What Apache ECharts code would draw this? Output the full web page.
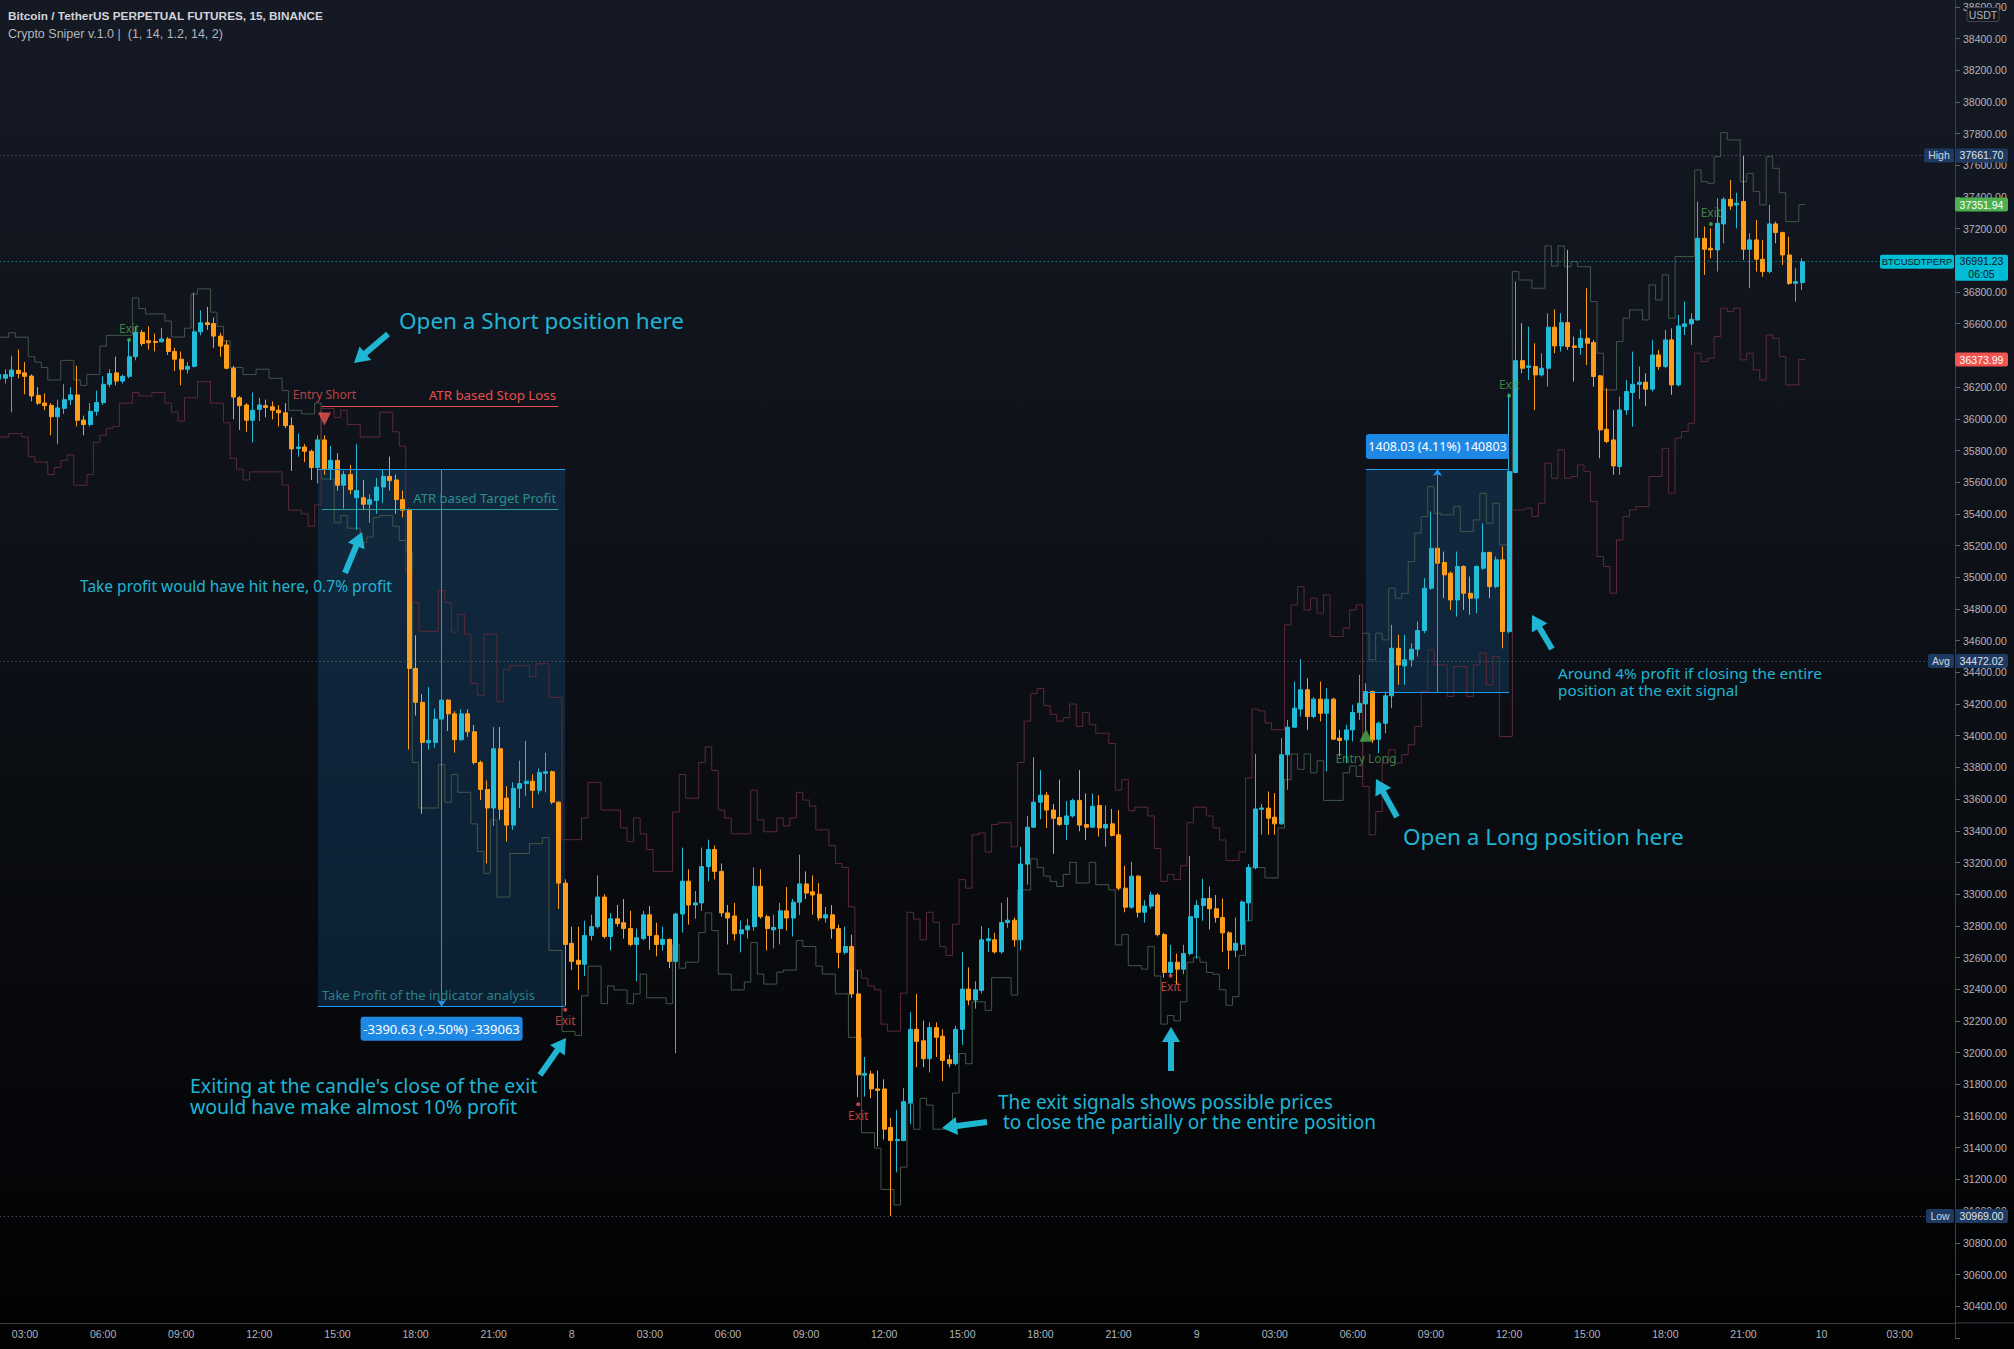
<!DOCTYPE html>
<html><head><meta charset="utf-8">
<script src="https://cdn.jsdelivr.net/npm/echarts@6.0.0/dist/echarts.min.js"></script>
<style>
html,body{margin:0;padding:0;background:#000;}
#c{width:2014px;height:1349px;background:linear-gradient(to bottom,#151924 0%,#0c0f15 50%,#020203 100%);}
</style></head><body><div id="c"></div>
<script>
// ---------- DATA ----------
const titleLine1 = 'Bitcoin / TetherUS PERPETUAL FUTURES, 15, BINANCE';
const titleLine2 = 'Crypto Sniper v.1.0 |  (1, 14, 1.2, 14, 2)';
const startDay = 7, startHour = 2, barMinutes = 15, slotCount = 301;

// 15-minute candles: [open, close, low, high]
const candles = [
[36250,36280,36220,36320],[36256,36279,36223,36313],[36268,36308,36042,36398],[36306,36286,36256,36437],[36290,36268,36155,36358],
[36270,36144,36110,36280],[36148,36099,36087,36200],[36100,36083,36054,36160],[36085,36013,35896,36099],[36013,36069,35840,36121],
[36066,36121,36031,36218],[36120,36151,36087,36200],[36151,35991,35952,36335],[35992,35964,35896,36020],[35964,36047,35952,36099],
[36047,36103,36020,36178],[36103,36218,36087,36268],[36218,36286,36200,36313],[36290,36238,36211,36392],[36238,36268,36223,36279],
[36268,36392,36256,36504],[36392,36545,36369,36583],[36545,36475,36459,36561],[36493,36480,36437,36583],[36488,36482,36425,36538],
[36486,36504,36482,36572],[36504,36425,36403,36516],[36425,36376,36301,36448],[36376,36313,36211,36425],[36313,36331,36286,36358],
[36331,36549,36324,36797],[36549,36606,36527,36684],[36606,36594,36561,36707],[36601,36522,36448,36640],[36522,36459,36392,36543],
[36466,36319,36313,36493],[36319,36137,35997,36335],[36133,36083,35930,36144],[36087,35991,35918,36099],[35991,36054,35851,36166],
[36060,36087,35986,36133],[36083,36072,36009,36121],[36076,36054,35997,36110],[36054,36038,35952,36087],[36038,35957,35941,36099],
[35957,35810,35671,36009],[35813,35822,35761,35907],[35822,35795,35727,35840],[35795,35693,35614,35806],[35693,35867,35592,35896],
[35867,35682,35648,35896],[35682,35738,35614,35828],[35738,35581,35547,35783],[35581,35648,35434,35671],[35648,35553,35524,35709],
[35502,35547,35299,35840],[35502,35461,35423,35614],[35461,35490,35344,35524],[35484,35569,35400,35626],[35569,35637,35468,35682],
[35637,35610,35547,35761],[35614,35490,35400,35648],[35490,35423,35378,35547],[35423,34425,33913,35434],[34425,34211,34127,34634],
[34211,33958,33508,34262],[33956,33970,33913,34307],[33958,34105,33924,34172],[34105,34225,33831,34242],[34225,34138,34030,34230],
[34138,33975,33893,34155],[33975,34138,33968,34167],[34138,34025,33993,34167],[34025,33831,33818,34068],[33831,33661,33594,33843],
[33661,33544,33194,33718],[33544,33918,33431,34055],[33918,33536,33469,34055],[33606,33436,33332,33681],[33436,33668,33406,33706],
[33668,33698,33544,33843],[33698,33713,33619,33968],[33713,33656,33544,33756],[33656,33768,33631,33793],[33763,33773,33643,33893],
[33773,33581,33569,33780],[33581,33070,32907,33585],[33070,32683,32296,33094],[32690,32576,32521,32795],[32583,32558,32396,32795],
[32558,32740,32483,32833],[32740,32795,32708,32870],[32795,32982,32783,33119],[32982,32733,32720,33000],[32733,32845,32645,32882],
[32845,32815,32795,32932],[32820,32783,32720,32970],[32783,32683,32670,32895],[32683,32725,32451,32783],[32720,32870,32708,32895],
[32870,32740,32650,32925],[32740,32683,32608,32820],[32683,32715,32645,32795],[32715,32576,32533,32720],[32576,32875,31997,32882],
[32875,33082,32758,33294],[33082,32932,32808,33157],[32932,32945,32845,33020],[32945,33174,32895,33294],[33174,33282,33082,33344],
[33282,33144,33094,33307],[33144,32882,32858,33194],[32882,32850,32683,32932],[32863,32750,32708,32945],[32750,32775,32633,32833],
[32775,32800,32720,32845],[32795,33050,32770,33169],[33050,32858,32845,33157],[32858,32783,32645,32870],[32775,32790,32658,32870],
[32783,32895,32683,32945],[32895,32850,32770,33045],[32850,32950,32733,32970],[32950,33065,32870,33249],[33065,33007,32970,33144],
[33015,32995,32870,33119],[33000,32850,32833,33070],[32850,32870,32820,32920],[32870,32783,32720,32932],[32783,32633,32533,32808],
[32633,32670,32620,32795],[32670,32371,32346,32745],[32371,31860,31720,32521],[31858,31869,31723,31973],[31865,31771,31713,31886],
[31771,31762,31408,31886],[31771,31517,31452,31832],[31528,31445,30969,31589],[31445,31452,31245,31637],[31445,31691,31441,31778],
[31684,32147,31549,32256],[32147,32071,31908,32371],[32075,31962,31908,32202],[31962,32158,31875,32191],[32158,32097,31973,32191],
[32104,31951,31821,32147],[31956,31930,31908,31988],[31930,32147,31919,32169],[32147,32401,32049,32636],[32401,32332,32299,32538],
[32332,32397,32278,32451],[32393,32712,32375,32799],[32706,32719,32636,32788],[32712,32636,32625,32756],[32636,32821,32625,32945],
[32821,32836,32788,32979],[32836,32712,32669,32853],[32712,33190,32647,33299],[33190,33423,33060,33494],[33423,33581,33418,33864],
[33581,33625,33473,33783],[33625,33531,33418,33646],[33531,33479,33255,33570],[33484,33440,33430,33723],[33440,33494,33342,33588],
[33494,33592,33484,33603],[33592,33436,33397,33783],[33440,33423,33342,33636],[33423,33555,33418,33636],[33560,33418,33364,33625],
[33418,33440,33299,33560],[33444,33371,33364,33538],[33375,33038,33023,33531],[33038,32918,32886,33179],[32918,33114,32908,33205],
[33114,32886,32853,33120],[32886,32925,32821,32962],[32925,32995,32908,33016],[32995,32745,32734,33005],[32745,32506,32473,32756],
[32506,32571,32484,32680],[32571,32527,32430,32625],[32527,32625,32495,32680],[32625,32858,32614,33240],[32853,32929,32593,32962],
[32929,32973,32832,33097],[32973,32908,32777,33049],[32908,32853,32821,32995],[32853,32756,32636,32973],[32756,32647,32527,32766],
[32647,32690,32603,32853],[32684,32951,32647,32962],[32945,33168,32832,33190],[33168,33538,33157,33885],[33536,33544,33375,33570],
[33543,33480,33375,33648],[33486,33444,33375,33638],[33444,33880,33438,33985],[33880,34054,33659,34100],[34054,34174,34048,34342],
[34168,34290,34121,34483],[34290,34121,34037,34363],[34121,34231,34110,34245],[34231,34142,34090,34342],[34142,34231,33775,34300],
[34231,33978,33974,34240],[33985,33970,33869,34037],[33974,34037,33827,34069],[34037,34147,33964,34195],[34147,34205,34100,34384],
[34201,34279,34037,34332],[34279,33974,33953,34285],[33978,34079,33890,34090],[34079,34252,34016,34279],[34252,34552,34174,34700],
[34552,34447,34321,34637],[34441,34479,34321,34637],[34479,34546,34436,34584],[34546,34664,34500,34721],[34664,34931,34647,34994],
[34931,35183,34920,35415],[35183,35089,34984,35190],[35093,35015,34868,35162],[35026,34857,34794,35036],[34857,35068,34752,35162],
[35068,34899,34794,35075],[34899,34868,34763,35005],[34868,35068,34773,35075],[35057,35156,35047,35341],[35156,34941,34868,35162],
[34941,35110,34931,35131],[35110,34658,34552,35194],[34657,35667,34647,36160],[35661,36367,35657,36866],[36367,36319,36288,36603],
[36325,36334,36245,36582],[36330,36277,36056,36477],[36277,36319,36267,36414],[36319,36578,36203,36666],[36578,36460,36414,36691],
[36460,36607,36424,36666],[36607,36456,36435,37066],[36460,36450,36235,36519],[36450,36508,36403,36565],[36508,36477,36340,36824],
[36481,36267,36203,36498],[36271,35930,35751,36277],[35934,35857,35846,36193],[35867,35703,35646,36056],[35699,36056,35646,36140],
[36056,36172,36025,36245],[36166,36218,35951,36424],[36218,36231,36124,36330],[36231,36187,36081,36288],[36187,36403,36172,36498],
[36403,36330,36309,36435],[36330,36498,36319,36561],[36498,36214,36151,36571],[36214,36586,36205,36656],[36582,36599,36529,36740],
[36599,36628,36466,36666],[36624,37139,36620,37371],[37139,37070,36908,37213],[37076,37066,37013,37202],[37066,37234,36929,37392],
[37230,37385,37108,37398],[37385,37343,37318,37507],[37350,37360,37202,37427],[37371,37070,37003,37661.7],[37070,37129,36824,37171],
[37129,37007,36929,37255],[37007,36929,36897,37129],[36929,37230,36918,37350],[37230,37175,37108,37244],[37175,37034,36971,37181],
[37034,36855,36845,37150],[36855,36866,36740,36950],[36860,36991.23,36813,37013]
];

// indicator step lines: [first candle index of the step, price]
const upperBandGreen = [
[0,36515],[2,36543],[3,36515],[5,36392],[6,36358],[7,36324],[8,36245],[10,36369],[12,36245],[13,36211],[14,36279],[16,36459],[17,36527],
[21,36763],[22,36696],[23,36662],[26,36617],[27,36516],[29,36572],[30,36786],[31,36820],[33,36673],[34,36583],[35,36493],[36,36324],
[38,36279],[40,36313],[42,36256],[44,36178],[45,36054],[47,36031],[49,36099],[50,35620],[52,35344],[53,35389],[54,35310],[56,35220],
[57,35254],[58,35378],[59,35389],[61,35322],[62,35232],[63,35164],[64,33831],[65,33544],[68,33818],[69,33581],[70,33756],[71,33643],
[73,33444],[74,33269],[75,33132],[76,33469],[77,32982],[79,33257],[82,33319],[84,33357],[85,32645],[87,32134],[89,32109],[90,32359],
[91,32546],[93,32309],[94,32421],[95,32396],[97,32309],[98,32371],[99,32496],[100,32346],[103,32309],[104,32683],[105,32533],[106,32571],
[108,32758],[109,32882],[110,32770],[111,32496],[113,32396],[115,32446],[116,32695],[117,32496],[118,32433],[120,32508],[121,32521],
[123,32708],[124,32670],[126,32546],[127,32496],[129,32371],[131,32097],[133,31495],[135,31397],[136,31137],[138,31039],[139,31278],
[140,31680],[141,31517],[142,31712],[143,31669],[144,31517],[147,31745],[148,31995],[149,31930],[150,32321],[152,32267],[153,32473],
[156,32364],[157,33027],[159,33223],[160,33168],[161,33114],[162,33081],[163,33049],[164,33125],[165,33201],[166,33071],[168,33201],
[169,33060],[171,33027],[172,32680],[173,32745],[174,32549],[176,32527],[177,32669],[178,32484],[179,32180],[180,32234],[181,32201],
[182,32321],[183,32571],[184,32603],[185,32571],[186,32506],[187,32495],[188,32397],[189,32299],[190,32353],[191,32614],[192,32832],
[193,33168],[195,33103],[197,33418],[198,33723],[199,33885],[200,33788],[201,33885],[202,33766],[203,33842],[204,33592],[207,33766],
[208,33809],[209,33743],[210,34647],[211,34479],[212,34647],[213,34605],[214,34931],[215,34868],[216,34899],[217,35099],[218,35278],
[219,35383],[220,35572],[221,35404],[222,35394],[224,35446],[225,35288],[227,35362],[228,35530],[229,35341],[230,35467],[231,35204],
[233,36929],[234,36876],[236,36824],[238,37091],[239,36965],[240,37091],[241,36960],[242,36992],[243,36960],[245,36740],[246,36414],
[247,36182],[249,36487],[250,36635],[251,36687],[253,36624],[254,36845],[255,36750],[256,36908],[257,36635],[258,37024],[261,37570],
[262,37497],[263,37486],[264,37654],[265,37806],[266,37760],[268,37497],[269,37549],[270,37434],[271,37350],[272,37654],[273,37581],
[274,37427],[275,37244],[277,37351.94]
];
const lowerBandRed = [
[0,35885],[2,35907],[4,35885],[5,35761],[6,35727],[8,35648],[9,35693],[10,35738],[11,35772],[12,35581],[14,35648],[15,35851],[16,35896],
[17,35941],[18,35952],[19,36099],[21,36166],[22,36144],[24,36166],[26,36099],[27,36042],[28,35986],[29,36133],[31,36234],[33,36099],
[35,35975],[36,35750],[37,35682],[38,35614],[39,35665],[44,35581],[45,35423],[47,35400],[48,35322],[49,35457],[50,36065],[52,36009],
[53,36054],[54,35964],[56,35885],[59,36042],[61,35918],[62,35828],[63,35029],[64,34841],[65,34659],[68,34916],[69,34841],[70,34654],
[71,34766],[72,34641],[73,34330],[74,34255],[75,34641],[77,34217],[78,34417],[79,34442],[82,34374],[83,34454],[85,34242],[87,33344],
[90,33481],[91,33706],[93,33531],[96,33419],[97,33332],[98,33481],[99,33381],[100,33282],[101,33144],[104,33519],[105,33756],[106,33606],
[108,33831],[109,33930],[110,33781],[111,33531],[112,33481],[113,33381],[116,33656],[117,33469],[118,33394],[120,33481],[121,33431],
[122,33481],[123,33643],[124,33594],[125,33556],[126,33406],[128,33307],[129,33194],[130,33169],[131,32920],[132,32521],[133,32470],
[134,32421],[135,32397],[136,32180],[137,32136],[139,32375],[140,32886],[141,32843],[142,32712],[143,32886],[144,32821],[145,32669],
[146,32614],[147,32810],[148,33092],[149,33038],[150,33375],[151,33386],[152,33266],[153,33440],[154,33451],[156,33299],[157,33831],
[158,34092],[159,34266],[160,34298],[161,34190],[162,34135],[163,34092],[164,34114],[165,34200],[166,34059],[167,34146],[168,34070],
[169,34016],[171,33951],[172,33657],[173,33723],[174,33527],[175,33549],[177,33494],[178,33288],[179,33081],[180,33125],[181,33092],
[182,33179],[183,33451],[184,33549],[186,33494],[187,33418],[188,33342],[189,33212],[191,33266],[192,33733],[193,34168],[194,34157],
[195,34081],[196,34038],[198,34700],[199,34826],[200,34941],[201,34794],[202,34868],[203,34773],[204,34889],[205,34626],[207,34679],
[208,34794],[209,34826],[210,33680],[211,33375],[212,33522],[213,33827],[214,33911],[215,33827],[216,33880],[217,33943],[218,34058],
[219,34279],[220,34542],[221,34447],[223,34248],[224,34437],[226,34248],[227,34447],[228,34521],[229,34321],[230,34500],[231,33995],
[233,35425],[235,35436],[236,35383],[237,35467],[238,35720],[239,35625],[240,35804],[241,35625],[242,35636],[243,35709],[244,35667],
[245,35478],[246,35131],[247,35068],[248,34900],[249,35236],[250,35383],[251,35425],[252,35446],[254,35636],[256,35814],[257,35530],
[258,35878],[259,35920],[260,35972],[261,36414],[262,36361],[263,36382],[264,36519],[265,36698],[266,36677],[267,36698],[268,36372],
[269,36414],[270,36309],[271,36245],[272,36529],[273,36508],[274,36393],[275,36214],[277,36373.99]
];

// signals: [candle index, price]
const entryShortSignals = [[50, 35999]];
const entryLongSignals = [[210, 34003]];
const exitGreenSignals = [[20, 36498], [232, 36145], [263, 37230]];
const exitRedSignals = [[87, 32271], [132, 31674], [180, 32485]];

// drawings
const shortTrade = { from: 49, to: 87, top: 35681, bottom: 32290, label: '-3390.63 (-9.50%) -339063' };
const longTrade = { from: 210, to: 232, top: 35683, bottom: 34275, label: '1408.03 (4.11%) 140803' };
const atrStopLoss = { from: 49.6, to: 85.9, price: 36081 };
const atrTarget = { from: 49.6, to: 85.9, price: 35430 };
const stats = { high: 37661.70, avg: 34472.02, low: 30969.00, last: 36991.23, countdown: '06:05', upper: 37351.94, lower: 36373.99 };
const priceMin = 30200, priceMax = 38800, priceStep = 200;
const hiddenPriceLabels = [37000, 36400]; // fully covered by the price tags in the reference

// ---------- BUILD ----------
const categories = [];
for (let k = 0; k < slotCount; k++) {
  const t = startHour * 60 + barMinutes * k;
  const d = startDay + Math.floor(t / 1440), m = t % 1440;
  categories.push(d + ' ' + String(Math.floor(m / 60)).padStart(2, '0') + ':' + String(m % 60).padStart(2, '0'));
}
function isMajor(v) { const t = v.split(' ')[1]; const h = +t.slice(0, 2), mi = +t.slice(3); return mi === 0 && h % 3 === 0; }
function stepLine(pts) {
  const d = pts.map(p => [p[0] - 0.5, p[1]]);
  d.push([candles.length - 0.5, pts[pts.length - 1][1]]);
  return d;
}
const UP = '#22bcd8', DOWN = '#ff9d1c', ANN = '#1fb5d3', BLUE = '#2196f3';
const AX = 'Liberation Sans';

const option = {
  animation: false,
  grid: { left: -4.3, right: 59, top: -24.88, bottom: 11.1, containLabel: false, outerBoundsMode: 'none' },
  xAxis: [
    { type: 'category', data: categories, boundaryGap: true, offset: -15,
      axisLine: { onZero: false, lineStyle: { color: '#3a3e48' } },
      axisTick: { alignWithLabel: true, length: 4, interval: (i, v) => isMajor(v), lineStyle: { color: '#5d606b' } },
      axisLabel: { interval: (i, v) => isMajor(v), formatter: v => { const [d, t] = v.split(' '); return t === '00:00' ? d : t; },
        color: '#b2b5be', fontSize: 10.5, fontFamily: AX, margin: 6 },
      splitLine: { show: false } },
    { type: 'value', min: -0.5, max: slotCount - 0.5, show: false,
      axisLine: { show: false, onZero: false }, axisTick: { show: false }, axisLabel: { show: false }, splitLine: { show: false } }
  ],
  yAxis: { type: 'value', position: 'right', min: priceMin, max: priceMax, interval: priceStep, scale: true,
    axisLine: { show: true, onZero: false, lineStyle: { color: '#3a3e48' } },
    axisTick: { show: true, inside: false, length: 5, lineStyle: { color: '#5d606b' } },
    axisLabel: { color: '#b2b5be', fontSize: 10.5, fontFamily: AX, margin: 8,
      formatter: v => (v <= priceMin || v >= priceMax || hiddenPriceLabels.includes(v)) ? '' : v.toFixed(2) },
    splitLine: { show: false }, minorTick: { show: false } },
  series: [
    { type: 'line', xAxisIndex: 1, data: stepLine(upperBandGreen), step: 'end', symbol: 'none',
      lineStyle: { color: '#425649', width: 1 }, z: 1, silent: true },
    { type: 'line', xAxisIndex: 1, data: stepLine(lowerBandRed), step: 'end', symbol: 'none',
      lineStyle: { color: '#5c2a36', width: 1 }, z: 1, silent: true },
    { type: 'candlestick', xAxisIndex: 0, data: candles, barWidth: 4.5, z: 2,
      itemStyle: { color: UP, color0: DOWN, borderColor: UP, borderColor0: DOWN, borderWidth: 1 } },
    { type: 'line', xAxisIndex: 1, data: [], z: 5, silent: true,
      markArea: { silent: true, itemStyle: { color: 'rgba(33,150,243,0.17)' },
        data: [
          [{ coord: [shortTrade.from, shortTrade.top] }, { coord: [shortTrade.to, shortTrade.bottom] }],
          [{ coord: [longTrade.from, longTrade.top] }, { coord: [longTrade.to, longTrade.bottom] }]
        ] },
      markLine: { silent: true, symbol: 'none', label: { show: false },
        data: [
          [{ coord: [shortTrade.from, shortTrade.top], lineStyle: { color: BLUE, width: 1, type: 'solid' } }, { coord: [shortTrade.to, shortTrade.top] }],
          [{ coord: [shortTrade.from, shortTrade.bottom], lineStyle: { color: BLUE, width: 1, type: 'solid' } }, { coord: [shortTrade.to, shortTrade.bottom] }],
          [{ coord: [(shortTrade.from + shortTrade.to) / 2, shortTrade.top], symbol: 'none', lineStyle: { color: BLUE, width: 1, type: 'solid' } },
           { coord: [(shortTrade.from + shortTrade.to) / 2, shortTrade.bottom], symbol: 'arrow', symbolSize: [7, 7] }],
          [{ coord: [longTrade.from, longTrade.top], lineStyle: { color: BLUE, width: 1, type: 'solid' } }, { coord: [longTrade.to, longTrade.top] }],
          [{ coord: [longTrade.from, longTrade.bottom], lineStyle: { color: BLUE, width: 1, type: 'solid' } }, { coord: [longTrade.to, longTrade.bottom] }],
          [{ coord: [(longTrade.from + longTrade.to) / 2, longTrade.bottom], symbol: 'none', lineStyle: { color: BLUE, width: 1, type: 'solid' } },
           { coord: [(longTrade.from + longTrade.to) / 2, longTrade.top], symbol: 'arrow', symbolSize: [7, 7] }],
          [{ coord: [atrStopLoss.from, atrStopLoss.price], lineStyle: { color: '#e8504d', width: 1, type: 'solid' } }, { coord: [atrStopLoss.to, atrStopLoss.price] }],
          [{ coord: [atrTarget.from, atrTarget.price], lineStyle: { color: '#2e9f8c', width: 1, type: 'solid' } }, { coord: [atrTarget.to, atrTarget.price] }],
          { yAxis: stats.high, lineStyle: { color: '#6a6d78', width: 1, type: [1, 3] } },
          { yAxis: stats.avg, lineStyle: { color: '#6a6d78', width: 1, type: [1, 3] } },
          { yAxis: stats.low, lineStyle: { color: '#6a6d78', width: 1, type: [1, 3] } },
          { yAxis: stats.last, lineStyle: { color: '#26a9c0', width: 1, type: [1, 3] } }
        ] } },
    { type: 'scatter', xAxisIndex: 1, data: entryShortSignals, symbol: 'triangle', symbolRotate: 180, symbolSize: [13, 13], z: 6,
      itemStyle: { color: '#f05350' },
      label: { show: true, position: 'top', distance: 12, formatter: 'Entry Short', color: '#e5504d', fontSize: 12, fontFamily: 'Noto Sans' } },
    { type: 'scatter', xAxisIndex: 1, data: entryLongSignals, symbol: 'triangle', symbolSize: [13, 13], z: 6,
      itemStyle: { color: '#4caf50' },
      label: { show: true, position: 'bottom', distance: 11, formatter: 'Entry Long', color: '#4a9e4e', fontSize: 12, fontFamily: 'Noto Sans' } },
    { type: 'scatter', xAxisIndex: 1, data: exitGreenSignals, symbol: 'circle', symbolSize: 4, z: 6,
      itemStyle: { color: '#4caf50' },
      label: { show: true, position: 'top', distance: 3, formatter: 'Exit', color: '#4a9e4e', fontSize: 12, fontFamily: 'Noto Sans' } },
    { type: 'scatter', xAxisIndex: 1, data: exitRedSignals, symbol: 'circle', symbolSize: 4, z: 6,
      itemStyle: { color: '#f05350' },
      label: { show: true, position: 'bottom', distance: 3, formatter: 'Exit', color: '#e5504d', fontSize: 12, fontFamily: 'Noto Sans' } }
  ]
};

const chart = echarts.init(document.getElementById('c'), null, { renderer: 'svg', width: 2014, height: 1349 });
chart.setOption(option);

const X = v => chart.convertToPixel({ xAxisIndex: 1 }, v);
const Y = v => chart.convertToPixel({ yAxisIndex: 0 }, v);

function txt(x, y, text, size, color, opts) {
  opts = opts || {};
  const align = opts.align || 'left';
  return { type: 'text', x: x, y: y, z: opts.z || 20, silent: true,
    style: { text: text, fill: color, font: (opts.weight || 'normal') + ' ' + size + 'px ' + (opts.family || 'Noto Sans'),
      align: align, textAlign: align, verticalAlign: 'middle', textVerticalAlign: 'middle' } };
}
function arrow(x1, y1, x2, y2) {
  const dx = x2 - x1, dy = y2 - y1, L = Math.hypot(dx, dy), ux = dx / L, uy = dy / L, nx = -uy, ny = ux;
  const hl = 15, hw = 9, bx = x2 - ux * hl, by = y2 - uy * hl;
  return [
    { type: 'line', z: 20, silent: true, shape: { x1: x1, y1: y1, x2: bx + ux * 2, y2: by + uy * 2 }, style: { stroke: ANN, lineWidth: 6 } },
    { type: 'polygon', z: 20, silent: true, shape: { points: [[x2, y2], [bx + nx * hw, by + ny * hw], [bx - nx * hw, by - ny * hw]] }, style: { fill: ANN } }
  ];
}
function tag(x, yc, w, h, bg, lines, color, border, fs) {
  const els = [{ type: 'rect', z: 30, silent: true, shape: { x: x, y: yc - h / 2, width: w, height: h, r: 2 },
    style: { fill: bg, stroke: border || null, lineWidth: border ? 1 : 0 } }];
  const lh = h / lines.length;
  lines.forEach((s, i) => els.push(txt(x + w / 2, yc - h / 2 + lh * (i + 0.5), s, fs || 10.5, color, { align: 'center', family: AX, z: 31 })));
  return els;
}

const g = [];
// title
g.push(txt(8, 16, titleLine1, 11.8, '#d1d4dc', { weight: 'bold', family: AX }));
g.push(txt(8, 34, titleLine2, 12.5, '#b2b5be', { family: AX }));

// drawing texts
const slY = Y(atrStopLoss.price), tpY = Y(atrTarget.price);
g.push(txt(X(atrStopLoss.to) - 2, slY - 11, 'ATR based Stop Loss', 13.3, '#e5504d', { align: 'right' }));
g.push(txt(X(atrTarget.to) - 2, tpY - 11, 'ATR based Target Profit', 13.1, '#2b8e8c', { align: 'right' }));
g.push(txt(X(shortTrade.from) + 4, Y(shortTrade.bottom) - 12, 'Take Profit of the indicator analysis', 13, '#2b8189'));

// range labels
const sx0 = X((shortTrade.from + shortTrade.to) / 2), sy = Y(shortTrade.bottom);
g.push({ type: 'rect', z: 25, silent: true, shape: { x: sx0 - 81, y: sy + 10, width: 162, height: 24, r: 3 }, style: { fill: '#1e88e5' } });
g.push(txt(sx0, sy + 22, shortTrade.label, 13, '#ffffff', { align: 'center', z: 26 }));
const lx0 = X(longTrade.from), lx1 = X(longTrade.to), ly = Y(longTrade.top);
g.push({ type: 'rect', z: 25, silent: true, shape: { x: lx0, y: ly - 35, width: lx1 - lx0, height: 25, r: 3 }, style: { fill: '#1e88e5' } });
g.push(txt((lx0 + lx1) / 2, ly - 22.5, longTrade.label, 12.5, '#ffffff', { align: 'center', z: 26 }));

// annotations
g.push(txt(399, 320, 'Open a Short position here', 22.5, ANN));
g.push(...arrow(388, 334, 354, 363));
g.push(txt(80, 586, 'Take profit would have hit here, 0.7% profit', 15.5, ANN));
g.push(...arrow(345, 573, 362, 532));
g.push(txt(190, 1085, "Exiting at the candle's close of the exit", 19.5, ANN));
g.push(txt(190, 1106, 'would have make almost 10% profit', 19.5, ANN));
g.push(...arrow(540, 1075, 566, 1038));
g.push(txt(998, 1102, 'The exit signals shows possible prices', 19, ANN));
g.push(txt(998, 1122, ' to close the partially or the entire position', 19, ANN));
g.push(...arrow(987, 1122, 942, 1128));
g.push(...arrow(1171, 1071, 1171, 1027));
g.push(txt(1403, 836, 'Open a Long position here', 22.5, ANN));
g.push(...arrow(1397, 817, 1376, 779));
g.push(txt(1558, 673, 'Around 4% profit if closing the entire', 15.3, ANN));
g.push(txt(1558, 690, 'position at the exit signal', 15.3, ANN));
g.push(...arrow(1552, 649, 1532, 615));

// price-axis tags
const ax = 1955, vw = 53;
g.push(...tag(1924, Y(stats.high), 30, 14, '#1d3a63', ['High'], '#d1d4dc'));
g.push(...tag(ax, Y(stats.high), vw, 14, '#1d3a63', [stats.high.toFixed(2)], '#e0e3eb'));
g.push(...tag(ax, Y(stats.upper), vw, 14, '#4caf50', [stats.upper.toFixed(2)], '#ffffff'));
g.push(...tag(1880, Y(stats.last), 74, 14, '#00bcd4', ['BTCUSDTPERP'], '#131722', null, 9.5));
g.push(...tag(ax, Y(stats.last) + 6, vw, 26, '#00bcd4', [stats.last.toFixed(2), stats.countdown], '#131722'));
g.push(...tag(ax, Y(stats.lower), vw, 14, '#f05350', [stats.lower.toFixed(2)], '#ffffff'));
g.push(...tag(1928, Y(stats.avg), 26, 14, '#1d3a63', ['Avg'], '#d1d4dc'));
g.push(...tag(ax, Y(stats.avg), vw, 14, '#1d3a63', [stats.avg.toFixed(2)], '#e0e3eb'));
g.push(...tag(1926, Y(stats.low), 28, 14, '#1d3a63', ['Low'], '#d1d4dc'));
g.push(...tag(ax, Y(stats.low), vw, 14, '#1d3a63', [stats.low.toFixed(2)], '#e0e3eb'));
g.push(...tag(1967, 14.5, 32, 14, '#131722', ['USDT'], '#b2b5be', '#434651'));
// extend bottom axis line under price scale
g.push({ type: 'line', z: 10, silent: true, shape: { x1: ax, y1: Y(priceMin) - 15, x2: 2014, y2: Y(priceMin) - 15 }, style: { stroke: '#3a3e48', lineWidth: 1 } });

chart.setOption({ graphic: { elements: g } });
</script></body></html>
